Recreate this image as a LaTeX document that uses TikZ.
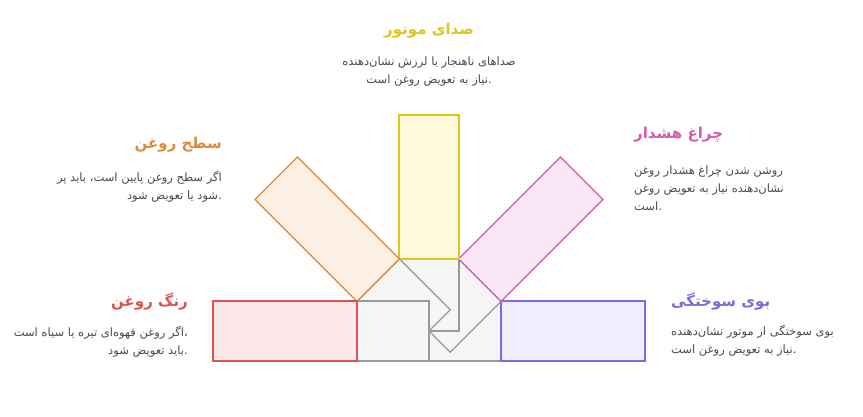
\documentclass[tikz,border=0pt]{standalone}
\usepackage{fontspec}
\usepackage{tikz}
\usetikzlibrary{calc}
\TeXXeTstate=1
\newfontfamily\farsi[Script=Arabic]{DejaVu Sans}
\definecolor{coreline}{HTML}{999999}
\definecolor{corefill}{HTML}{F5F5F5}
\definecolor{oilline}{HTML}{E05252}
\definecolor{oilfill}{HTML}{FDE9E9}
\definecolor{levelline}{HTML}{E0883A}
\definecolor{levelfill}{HTML}{FDF0E2}
\definecolor{noiseline}{HTML}{DDC51E}
\definecolor{noisefill}{HTML}{FEF9DB}
\definecolor{lampline}{HTML}{D55BAA}
\definecolor{lampfill}{HTML}{FCE7F6}
\definecolor{burnline}{HTML}{7C6BDB}
\definecolor{burnfill}{HTML}{F0EEFD}
\definecolor{bodytext}{HTML}{4A4A4A}

\begin{document}
\begin{tikzpicture}[x=1pt, y=1pt,
  core/.style={draw=coreline, fill=corefill, line width=1.3pt, minimum width=72pt, minimum height=60pt, inner sep=0pt},
  arm/.style={line width=1.3pt, minimum width=144pt, minimum height=60pt, inner sep=0pt},
  title/.style={font=\farsi\bfseries\fontsize{15}{18}\selectfont, inner sep=0pt},
  body/.style={font=\farsi\fontsize{11.5}{18}\selectfont, text=bodytext, inner sep=0pt}]
 \useasboundingbox (0,0) rectangle (863,416);
 \coordinate (hub) at (429,85);

 % inner parts, back to front
 \node[name=burncore, core, rotate=0] at ($(hub)+(0:36)$) {};
 \node[name=lampcore, core, rotate=45] at ($(hub)+(45:36)$) {};
 \node[name=noisecore, core, rotate=90] at ($(hub)+(90:36)$) {};
 \node[name=levelcore, core, rotate=135] at ($(hub)+(135:36)$) {};
 \node[name=oilcore, core, rotate=180] at ($(hub)+(180:36)$) {};

 % coloured arms
 \node[name=burn, arm, draw=burnline, fill=burnfill, rotate=0] at ($(hub)+(0:144)$) {};
 \node[name=lamp, arm, draw=lampline, fill=lampfill, rotate=45] at ($(hub)+(45:144)$) {};
 \node[name=noise, arm, draw=noiseline, fill=noisefill, rotate=90] at ($(hub)+(90:144)$) {};
 \node[name=level, arm, draw=levelline, fill=levelfill, rotate=135] at ($(hub)+(135:144)$) {};
 \node[name=oil, arm, draw=oilline, fill=oilfill, rotate=180] at ($(hub)+(180:144)$) {};

 % labels
 \node[name=noisetitle, title, text=noiseline] at (429,385) {\beginR صدای موتور\endR};
 \node[name=noisetext, body, align=center] at (429,344) {\beginR صداهای ناهنجار یا لرزش نشان‌دهنده\endR\\\beginR نیاز به تعویض روغن است\endR.};

 \node[name=leveltitle, title, text=levelline, anchor=east] at (222,271) {\beginR سطح روغن\endR};
 \node[name=leveltext, body, align=right, anchor=east] at (222,229) {\beginR اگر سطح روغن پایین است، باید پر\endR\\\beginR شود یا تعویض شود\endR.};

 \node[name=lamptitle, title, text=lampline, anchor=west] at (634,281) {\beginR چراغ هشدار\endR};
 \node[name=lamptext, body, align=left, anchor=west] at (634,228) {\beginR روشن شدن چراغ هشدار روغن\endR\\\beginR نشان‌دهنده نیاز به تعویض روغن\endR\\\beginR است\endR.};

 \node[name=oiltitle, title, text=oilline, anchor=east] at (188,114) {\beginR رنگ روغن\endR};
 \node[name=oiltext, body, align=right, anchor=east] at (188,74) {\beginR اگر روغن قهوه‌ای تیره یا سیاه است\endR،\\\beginR باید تعویض شود\endR.};

 \node[name=burntitle, title, text=burnline, anchor=west] at (671,114) {\beginR بوی سوختگی\endR};
 \node[name=burntext, body, align=left, anchor=west] at (671,75) {\beginR بوی سوختگی از موتور نشان‌دهنده\endR\\\beginR نیاز به تعویض روغن است\endR.};
\end{tikzpicture}
\end{document}
